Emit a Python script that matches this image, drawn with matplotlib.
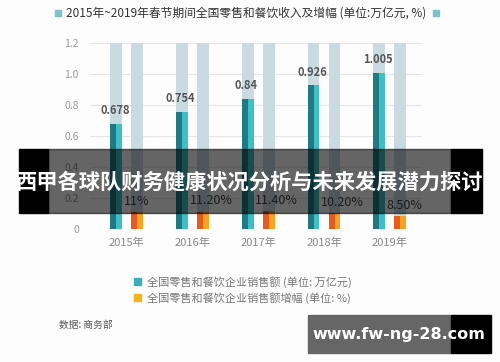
import matplotlib
matplotlib.use("Agg")
import matplotlib.pyplot as plt
from matplotlib.patches import Rectangle
import numpy as np

plt.rcParams['font.family'] = ['Noto Sans CJK SC', 'DejaVu Sans']

years = ['2015年', '2016年', '2017年', '2018年', '2019年']
sales = [0.678, 0.754, 0.84, 0.926, 1.005]
sales_labels = ['0.678', '0.754', '0.84', '0.926', '1.005']
growth = [11, 11.2, 11.4, 10.2, 8.5]
growth_labels = ['11%', '11.20%', '11.40%', '10.20%', '8.50%']
yticks = [0, 0.2, 0.4, 0.6, 0.8, 1.0, 1.2]
ytick_labels = ['0', '0.2', '0.4', '0.6', '0.8', '1.0', '1.2']
title = '2015年~2019年春节期间全国零售和餐饮收入及增幅 (单位:万亿元, %)'
legend_labels = ['全国零售和餐饮企业销售额 (单位: 万亿元)', '全国零售和餐饮企业销售额增幅 (单位: %)']
source = '数据: 商务部'
banner = '西甲各球队财务健康状况分析与未来发展潜力探讨'
watermark = 'www.fw-ng-28.com'

W, H = 500, 362
fig = plt.figure(figsize=(W / 100, H / 100), dpi=100)
fig.patch.set_facecolor('#fdfdfd')

def fx(x):
    return x / W

def fy(y):
    return 1 - y / H

ax = fig.add_axes([fx(90), fy(229), fx(422) - fx(90), fy(43) - fy(229)])
ax.set_facecolor('none')
x = np.arange(len(years))
bw = 0.18
off = 0.16
grey = '#c9dbe1'
teal_dk, teal_lt = '#1f7a84', '#3dbfc7'
or_dk, or_lt = '#ea5a1e', '#f7a51f'

# background columns
ax.bar(x - off, [1.2] * len(x), width=bw, color=grey, zorder=1)
ax.bar(x + off, [1.2] * len(x), width=bw, color=grey, zorder=1)
# teal two-tone
ax.bar(x - off - bw / 4, sales, width=bw / 2, color=teal_dk, zorder=2)
ax.bar(x - off + bw / 4, sales, width=bw / 2, color=teal_lt, zorder=2)
g = np.array(growth) / 100
ax.bar(x + off - bw / 4, g, width=bw / 2, color=or_dk, zorder=2)
ax.bar(x + off + bw / 4, g, width=bw / 2, color=or_lt, zorder=2)

for xi, v, lab in zip(x, sales, sales_labels):
    ax.annotate(lab, (xi - off, v), xytext=(-1, 5), textcoords='offset points',
                ha='center', va='bottom', fontsize=8, color='#555555',
                fontweight='bold', zorder=3)
for xi, v, lab in zip(x, g, growth_labels):
    ax.annotate(lab, (xi + off - bw / 2, v), xytext=(-5.5, 3), textcoords='offset points',
                ha='left', va='bottom', fontsize=9, color='#444444', zorder=3)

ax.set_xlim(-0.56, 4.49)
ax.set_ylim(0, 1.2)
ax.set_yticks(yticks)
ax.set_yticklabels(ytick_labels, fontsize=7.5, color='#9a9a9a')
ax.set_xticks(x)
ax.set_xticklabels(years, fontsize=8, color='#888888')
ax.tick_params(length=0, pad=8)
ax.tick_params(axis='x', pad=6)
for s in ax.spines.values():
    s.set_visible(False)
ax.grid(axis='y', color='#e6e6e6', linewidth=0.8, zorder=0)
ax.set_axisbelow(True)

# title
fig.text(fx(246), fy(13), title, ha='center', va='center', fontsize=8.5, color='#333333')
fig.patches.append(Rectangle((fx(55), fy(16)), fx(6), fy(10) - fy(16), transform=fig.transFigure,
                             color='#7cc3c6', figure=fig))
fig.patches.append(Rectangle((fx(433), fy(16)), fx(6), fy(10) - fy(16), transform=fig.transFigure,
                             color='#7cc3c6', figure=fig))

# legend
for i, (lab, c) in enumerate(zip(legend_labels, ['#3aaebe', '#f4b41e'])):
    yy = 282 + 16 * i
    fig.patches.append(Rectangle((fx(134), fy(yy + 3)), fx(7), fy(yy - 4) - fy(yy + 3),
                                 transform=fig.transFigure, color=c, figure=fig))
    fig.text(fx(147), fy(yy), lab, ha='left', va='center', fontsize=8, color='#777777')

# source
fig.text(fx(59), fy(325), source, ha='left', va='center', fontsize=7, color='#555555')

# banner
fig.patches.append(Rectangle((fx(19), fy(213)), fx(29), fy(149) - fy(213), transform=fig.transFigure,
                             color='black', figure=fig, zorder=5))
fig.patches.append(Rectangle((fx(451), fy(213)), fx(31), fy(149) - fy(213), transform=fig.transFigure,
                             color='black', figure=fig, zorder=5))
fig.patches.append(Rectangle((fx(48), fy(213)), fx(403), fy(149) - fy(213), transform=fig.transFigure,
                             color='black', alpha=0.6, figure=fig, zorder=5))
fig.text(fx(250), fy(182), banner, ha='center', va='center', fontsize=15.3, color='white',
         fontweight='bold', zorder=6)

# watermark
fig.patches.append(Rectangle((fx(308), fy(353)), fx(143), fy(315) - fy(353), transform=fig.transFigure,
                             color='#666666', figure=fig, zorder=5))
fig.patches.append(Rectangle((fx(451), fy(353)), fx(40), fy(315) - fy(353), transform=fig.transFigure,
                             color='black', figure=fig, zorder=5))
fig.text(fx(399), fy(334), watermark, ha='center', va='center', fontsize=11.5, color='white',
         fontweight='bold', family=['DejaVu Sans'], zorder=6)

fig.savefig('out.png', dpi=100, facecolor=fig.get_facecolor())
